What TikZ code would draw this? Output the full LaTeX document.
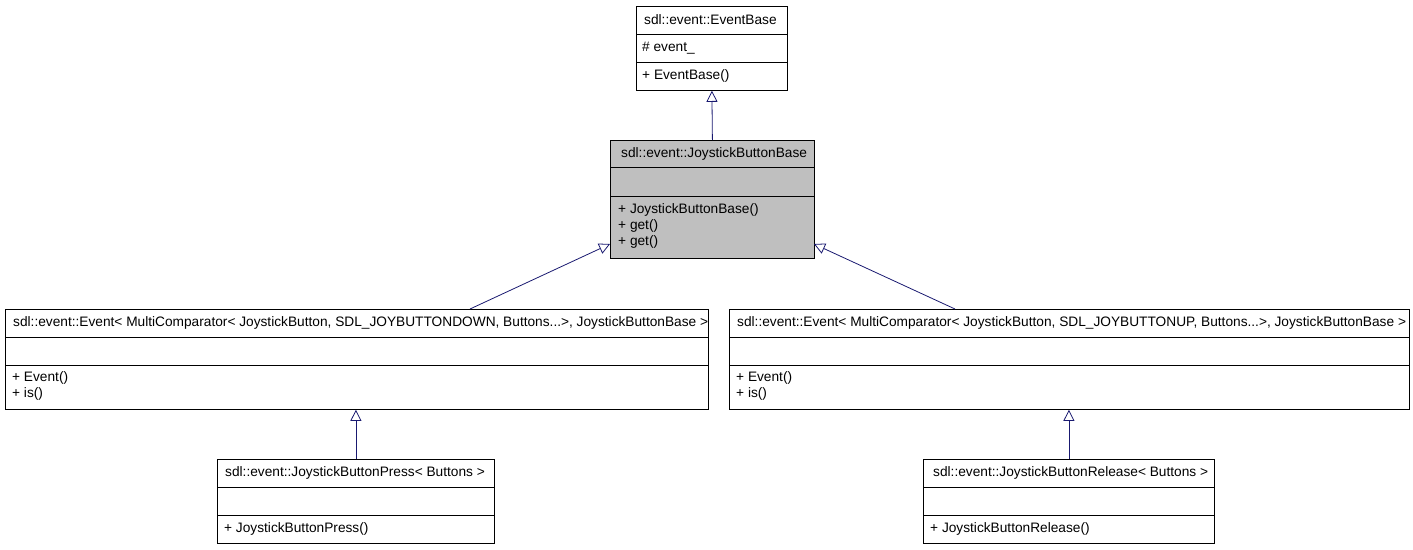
\documentclass[tikz,border=0pt]{standalone}
\usepackage{fontspec}
\setmainfont{Liberation Sans}
\usetikzlibrary{arrows.meta}
\definecolor{edgeblue}{HTML}{191970}
\definecolor{basegray}{HTML}{BFBFBF}
\tikzset{
x=1pt, y=-1pt,
cls/.style={draw, thick, rectangle, inner sep=0pt, anchor=north west}, % class box
txt/.style={anchor=west, inner sep=0pt, font=\fontsize{13.7}{15}\selectfont},
inherit/.style={draw=edgeblue, thick, -{Triangle[open, width=11pt, length=11pt, fill=white]}},
}
\begin{document}
\begin{tikzpicture}
\useasboundingbox (0,0) rectangle (1413,549);
% EventBase
\node[cls, minimum width=151pt, minimum height=84pt] (eb) at (636,6) {};
\draw[thick] (636,34) -- (787,34) (636,62) -- (787,62);
\node[txt] (ebt) at (644,20) {sdl::event::EventBase};
\node[txt] (eba) at (642,48) {\# event\_};
\node[txt] (ebm) at (642,76) {+ EventBase()};
% JoystickButtonBase
\node[cls, fill=basegray, minimum width=204pt, minimum height=118pt] (jbb) at (610,140) {};
\draw[thick] (610,167) -- (814,167) (610,196) -- (814,196);
\node[txt] (jbbt) at (621,154) {sdl::event::JoystickButtonBase};
\node[txt] (jbbm1) at (618,210) {+ JoystickButtonBase()};
\node[txt] (jbbm2) at (618,226) {+ get()};
\node[txt] (jbbm3) at (618,242) {+ get()};
% Event down
\node[cls, minimum width=703pt, minimum height=100pt] (evd) at (5,309) {};
\draw[thick] (5,337) -- (708,337) (5,365) -- (708,365);
\node[txt] (evdt) at (13,323) {sdl::event::Event< MultiComparator< JoystickButton, SDL\_JOYBUTTONDOWN, Buttons...>, JoystickButtonBase >};
\node[txt] (evdm1) at (12,378) {+ Event()};
\node[txt] (evdm2) at (12,394) {+ is()};
% Event up
\node[cls, minimum width=680pt, minimum height=100pt] (evu) at (729,309) {};
\draw[thick] (729,337) -- (1409,337) (729,365) -- (1409,365);
\node[txt] (evut) at (737,323) {sdl::event::Event< MultiComparator< JoystickButton, SDL\_JOYBUTTONUP, Buttons...>, JoystickButtonBase >};
\node[txt] (evum1) at (736,378) {+ Event()};
\node[txt] (evum2) at (736,394) {+ is()};
% Press
\node[cls, minimum width=277pt, minimum height=84pt] (jbp) at (217,459) {};
\draw[thick] (217,487) -- (494,487) (217,515) -- (494,515);
\node[txt] (jbpt) at (225,473) {sdl::event::JoystickButtonPress< Buttons >};
\node[txt] (jbpm) at (224,529) {+ JoystickButtonPress()};
% Release
\node[cls, minimum width=291pt, minimum height=84pt] (jbr) at (923,459) {};
\draw[thick] (923,487) -- (1214,487) (923,515) -- (1214,515);
\node[txt] (jbrt) at (933,473) {sdl::event::JoystickButtonRelease< Buttons >};
\node[txt] (jbrm) at (930,529) {+ JoystickButtonRelease()};
% inheritance
\coordinate (jbbl) at (610,244);
\coordinate (jbbr) at (814,244);
\draw[inherit] (jbb.north) -- (eb.south);
\draw[inherit] (470,309) -- (jbbl);
\draw[inherit] (955,309) -- (jbbr);
\draw[inherit] (jbp.north) -- (jbp.north |- evd.south);
\draw[inherit] (jbr.north) -- (jbr.north |- evu.south);
\end{tikzpicture}
\end{document}
